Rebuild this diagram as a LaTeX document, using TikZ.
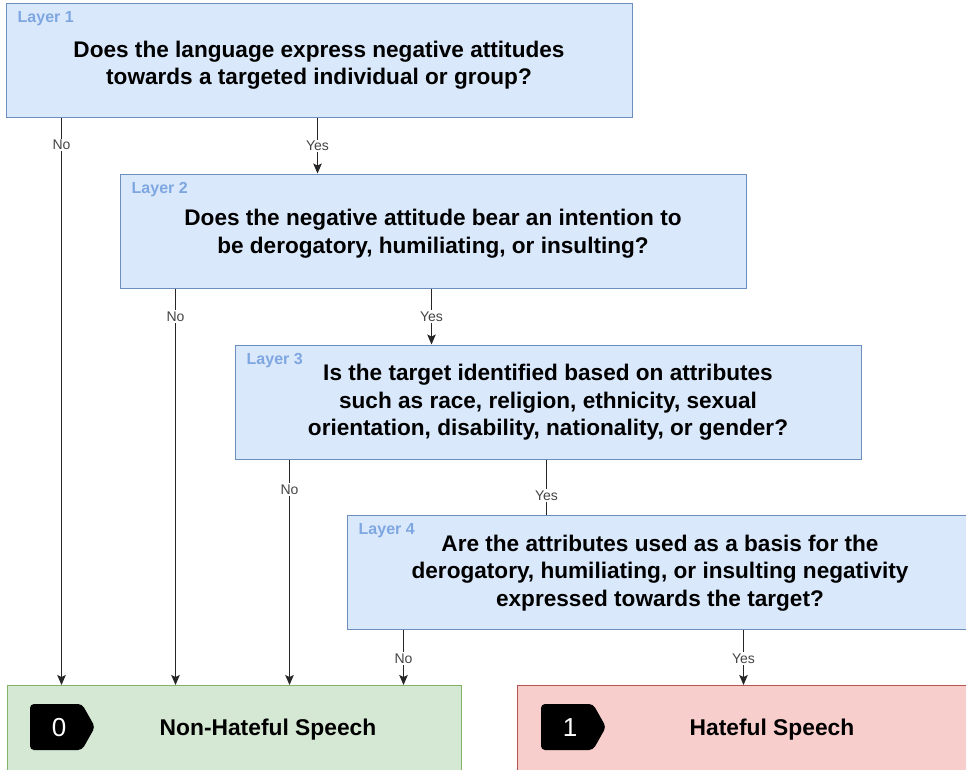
\documentclass[tikz,border=0pt]{standalone}
\usepackage{fontspec}
\setmainfont{Liberation Sans}
\usetikzlibrary{arrows.meta,calc}
\definecolor{qfill}{HTML}{DAE8FC}
\definecolor{qdraw}{HTML}{6C8EBF}
\definecolor{gfill}{HTML}{D5E8D4}
\definecolor{gdraw}{HTML}{82B366}
\definecolor{rfill}{HTML}{F8CECC}
\definecolor{rdraw}{HTML}{B85450}
\definecolor{laycol}{HTML}{7EA6E0}
\definecolor{labcol}{HTML}{444444}
\tikzset{
  qbox/.style={draw=qdraw, fill=qfill, line width=1pt, minimum width=626pt,
    minimum height=114pt, inner sep=0pt},
  qtext/.style={align=center, inner sep=0pt,
    font=\fontsize{22.6}{27.5}\selectfont\bfseries},
  outbox/.style={line width=1pt, minimum width=454pt, minimum height=100pt,
    inner sep=0pt, anchor=north west},
  laytag/.style={anchor=west, text=laycol, inner sep=0pt,
    font=\fontsize{16}{18}\selectfont\bfseries},
  lab/.style={fill=white, text=labcol, inner sep=1.5pt,
    font=\fontsize{14}{16}\selectfont},
  arr/.style={draw=black!85, line width=0.9pt,
    -{Stealth[length=10pt,width=8.5pt,inset=2pt]}},
  plain/.style={draw=black!85, line width=0.9pt},
  outtext/.style={font=\fontsize{22.8}{26}\selectfont\bfseries, inner sep=0pt},
  numtext/.style={text=white, inner sep=0pt, font=\fontsize{26}{28}\selectfont},
}
\begin{document}
\begin{tikzpicture}[x=1pt,y=-1pt]
\useasboundingbox (0,0) rectangle (966,769);

% question boxes
\node[qbox] (q1) at (319,60.5) {};
\node[qbox] (q2) at (433,231) {};
\node[qbox] (q3) at (548,402) {};
\node[qbox] (q4) at (660,572) {};

% question texts
\node[qtext] (q1t) at ($(q1.center)+(0,4.5)$) {Does the language express negative attitudes\\towards a targeted individual or group?};
\node[qtext] (q2t) at ($(q2.center)+(0,2.5)$) {Does the negative attitude bear an intention to\\be derogatory, humiliating, or insulting?};
\node[qtext] (q3t) at ($(q3.center)+(0,0.5)$) {Is the target identified based on attributes\\such as race, religion, ethnicity, sexual\\orientation, disability, nationality, or gender?};
\node[qtext] (q4t) at ($(q4.center)+(0,1)$) {Are the attributes used as a basis for the\\derogatory, humiliating, or insulting negativity\\expressed towards the target?};

\foreach \i in {1,...,4}
  \node[laytag] (lay\i) at ($(q\i.north west)+(12,16)$) {Layer \i};

% outcome boxes
\node[outbox, draw=gdraw, fill=gfill] (nh) at (7,685) {};
\node[outbox, draw=rdraw, fill=rfill, minimum width=460pt] (hs) at (517,685) {};

% number tags
\fill[rounded corners=4pt] (30,704) -- (82,704) -- (95,727) -- (82,750) -- (30,750) -- cycle;
\fill[rounded corners=4pt] (541,704) -- (593,704) -- (606,727) -- (593,750) -- (541,750) -- cycle;
\node[numtext] (t0) at (59,728) {0};
\node[numtext] (t1) at (570,728) {1};
\node[outtext] (nht) at (268,730) {Non-Hateful Speech};
\node[outtext] (hst) at (772,730) {Hateful Speech};

% connectors
\coordinate (n1) at ($(q1.south west)+(56,0)$);
\coordinate (y1) at ($(q1.south west)+(312,0)$);
\coordinate (n2) at ($(q2.south west)+(56,0)$);
\coordinate (y2) at ($(q2.south west)+(312,0)$);
\coordinate (n3) at ($(q3.south west)+(55,0)$);
\coordinate (y3) at ($(q3.south west)+(312,0)$);
\coordinate (n4) at ($(q4.south west)+(57,0)$);
\coordinate (y4) at ($(q4.south west)+(397,0)$);

\draw[arr] (n1) -- ++(0,27) node[lab] {No} -- (n1 |- nh.north);
\draw[arr] (y1) -- ++(0,28) node[lab] {Yes} -- (y1 |- q2.north);
\draw[arr] (n2) -- ++(0,28) node[lab] {No} -- (n2 |- nh.north);
\draw[arr] (y2) -- ++(0,28) node[lab] {Yes} -- (y2 |- q3.north);
\draw[arr] (n3) -- ++(0,30) node[lab] {No} -- (n3 |- nh.north);
\draw[plain] (y3) -- ++(0,36) node[lab] {Yes} -- (y3 |- q4.north);
\draw[arr] (n4) -- ++(0,29) node[lab] {No} -- (n4 |- nh.north);
\draw[arr] (y4) -- ++(0,29) node[lab] {Yes} -- (y4 |- hs.north);
\end{tikzpicture}
\end{document}
